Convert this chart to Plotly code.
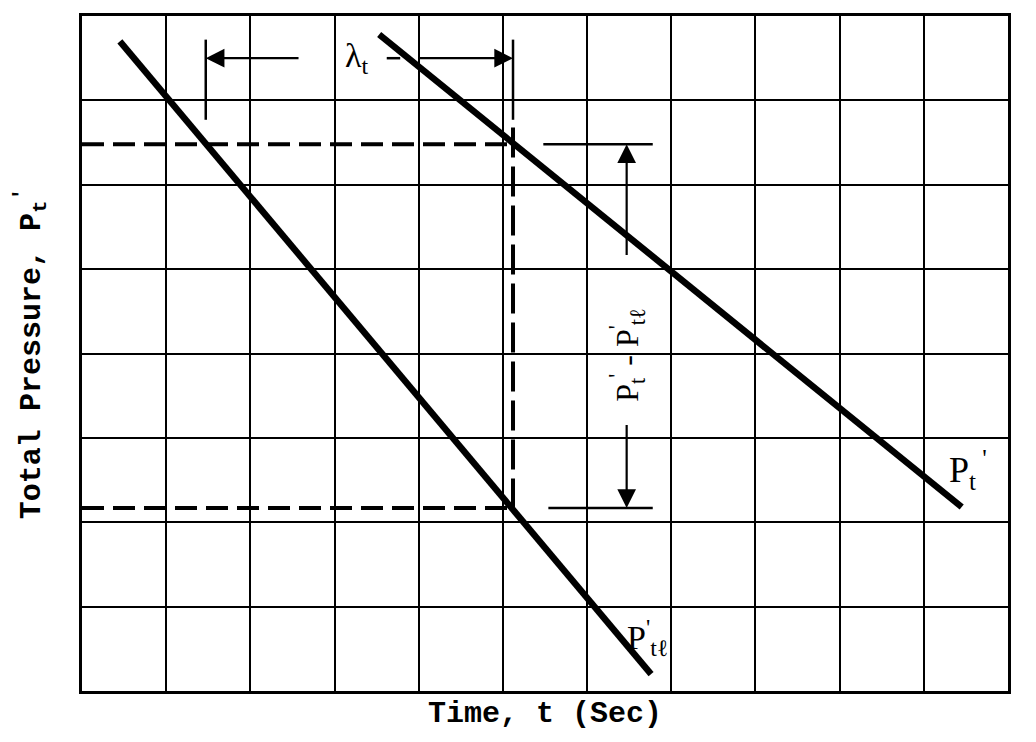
import plotly.graph_objects as go

# grid extent (cells)
X_CELLS = 11
Y_CELLS = 8

# main curves (endpoints, in grid units)
pt_x = [3.53, 10.45]
pt_y = [7.78, 2.18]
ptl_x = [0.45, 6.76]
ptl_y = [7.70, 0.20]

# construction values
t_cross = 5.12          # time where the vertical dashed line sits
p_upper = 6.48          # level of P_t' at t_cross
p_lower = 2.17          # level of P_tl' at t_cross
lam_left = 1.47         # left end of lambda_t
lam_y = 7.50            # height of the lambda_t arrows
tick_top = 7.72
tick_bottom = 6.77
seg_start = [5.48, 5.54]  # start of solid extension lines (upper, lower)
seg_end = 6.78
arrow_x = 6.47
arrow_upper_tail = 5.15
arrow_lower_tail = 3.17
lam_arrow_left_tail = 2.59
lam_arrow_right_tail = 3.98

FONT_T = "Liberation Mono"
FONT_L = "Liberation Serif"

fig = go.Figure()


def seg(xs, ys, width=2.5, dash=None):
    fig.add_trace(go.Scatter(x=xs, y=ys, mode="lines",
                             line=dict(color="black", width=width, dash=dash),
                             showlegend=False, hoverinfo="skip"))


# dashed construction lines
seg([0, t_cross], [p_upper, p_upper], 4, "22px,9px")
seg([0, t_cross], [p_lower, p_lower], 4, "22px,9px")
seg([t_cross, t_cross], [6.68, p_lower], 4, "30px,9px")

# solid extension lines
for s, lev in zip(seg_start, [p_upper, p_lower]):
    seg([s, seg_end], [lev, lev])

# lambda ticks
for tx in [lam_left, t_cross]:
    seg([tx, tx], [tick_top, tick_bottom])
# small dash after lambda label
seg([3.62, 3.78], [lam_y, lam_y])

# main curves
seg(ptl_x, ptl_y, 6.5)
seg(pt_x, pt_y, 6.5)


# arrows (filled heads)
def arrow(x, y, ax, ay):
    fig.add_annotation(x=x, y=y, ax=ax, ay=ay, xref="x", yref="y",
                       axref="x", ayref="y", text="", showarrow=True,
                       arrowhead=2, arrowsize=1.7, arrowwidth=2.2,
                       arrowcolor="black")


arrow(lam_left, lam_y, lam_arrow_left_tail, lam_y)
arrow(t_cross, lam_y, lam_arrow_right_tail, lam_y)
arrow(arrow_x, p_upper, arrow_x, arrow_upper_tail)
arrow(arrow_x, p_lower, arrow_x, arrow_lower_tail)

# text labels
fig.add_annotation(x=3.27, y=lam_y, xref="x", yref="y", showarrow=False,
                   text="λ<sub>t</sub>", font=dict(family=FONT_L, size=34, color="black"))
fig.add_annotation(x=arrow_x, y=3.98, xref="x", yref="y", showarrow=False,
                   textangle=-90,
                   text="P<sub>t</sub><sup>'</sup> - P<sup>'</sup><sub>tℓ</sub>",
                   font=dict(family=FONT_L, size=32, color="black"))
fig.add_annotation(x=10.53, y=2.62, xref="x", yref="y", showarrow=False,
                   text="P<sub>t</sub><sup> '</sup>",
                   font=dict(family=FONT_L, size=36, color="black"))
fig.add_annotation(x=6.72, y=0.63, xref="x", yref="y", showarrow=False,
                   text="P<sup>'</sup><sub>tℓ</sub>",
                   font=dict(family=FONT_L, size=34, color="black"))

fig.update_layout(
    width=1028, height=734,
    margin=dict(l=74, r=28, t=5, b=51),
    paper_bgcolor="white", plot_bgcolor="white",
    showlegend=False,
)
fig.update_xaxes(range=[0, X_CELLS], dtick=1, tick0=0, showgrid=True,
                 gridcolor="black", gridwidth=2, showline=True, mirror=True,
                 linecolor="black", linewidth=3, showticklabels=False,
                 ticks="", zeroline=False, fixedrange=True,
                 title=dict(text="Time, t (Sec)", standoff=8,
                            font=dict(family=FONT_T, size=30, color="black",
                                      weight="bold")))
fig.update_yaxes(range=[0, Y_CELLS], dtick=1, tick0=0, showgrid=True,
                 gridcolor="black", gridwidth=2, showline=True, mirror=True,
                 linecolor="black", linewidth=3, showticklabels=False,
                 ticks="", zeroline=False, fixedrange=True,
                 title=dict(text="Total Pressure, P<sub>t</sub><sup>'</sup>", standoff=30,
                            font=dict(family=FONT_T, size=30, color="black",
                                      weight="bold")))

fig.write_html("out.html")
